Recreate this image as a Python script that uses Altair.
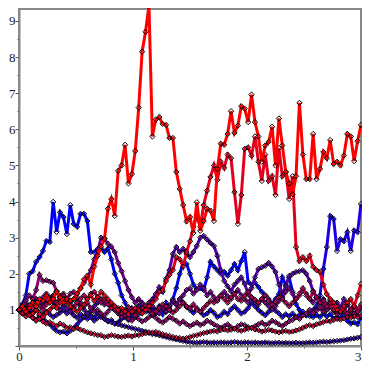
import altair as alt
import pandas as pd

t_step = 0.03
n_pts = 101

path_blue = [
    1.0, 1.16, 1.4, 2.0, 2.07, 2.33, 2.46, 2.63, 2.91, 2.88,
    3.99, 3.16, 3.7, 3.57, 3.1, 3.9, 3.38, 3.3, 3.66, 3.66,
    3.46, 2.6, 2.6, 2.69, 2.7, 2.6, 2.7, 2.4, 2.0, 1.75,
    1.4, 1.2, 1.0, 1.02, 0.95, 1.1, 0.92, 1.0, 0.95, 1.05,
    0.9, 1.1, 0.88, 1.2, 1.02, 1.3, 1.6, 2.0, 2.3, 2.27,
    2.0, 1.7, 1.58, 1.6, 1.55, 1.9, 2.33, 2.2, 2.1, 2.0,
    2.05, 1.95, 2.1, 2.27, 2.1, 2.35, 2.6, 1.77, 1.7, 1.75,
    1.63, 1.5, 1.4, 1.3, 1.16, 1.3, 1.44, 1.9, 1.7, 1.9,
    1.5, 1.16, 1.0, 0.88, 0.85, 0.83, 0.8, 0.86, 0.8, 0.9,
    0.82, 0.88, 0.76, 0.8, 0.78, 0.84, 0.7, 0.62, 0.66, 0.6, 0.8,
]
path_violet = [
    1.0, 0.92, 1.05, 0.88, 0.8, 0.72, 0.85, 0.78, 0.66, 0.6,
    0.5, 0.42, 0.38, 0.4, 0.35, 0.42, 0.5, 0.6, 0.72, 0.8,
    0.9, 0.85, 0.78, 0.92, 0.86, 0.75, 0.68, 0.72, 0.62, 0.66,
    0.75, 0.8, 0.72, 0.85, 0.95, 0.88, 1.02, 0.95, 1.1, 1.0,
    0.9, 0.98, 1.08, 0.95, 1.12, 1.25, 1.15, 1.3, 1.2, 1.08,
    1.0, 0.92, 1.05, 0.95, 0.85, 0.9, 1.0, 0.92, 0.8, 0.85,
    0.95, 0.88, 1.02, 1.1, 1.0, 0.9, 0.95, 1.05, 1.2, 1.1,
    1.0, 0.92, 0.85, 0.95, 1.05, 0.98, 0.9, 0.8, 0.88, 0.82,
    0.9, 0.8, 0.86, 0.95, 0.85, 0.9, 1.0, 1.1, 1.4, 2.13,
    2.74, 3.6, 3.52, 2.63, 2.96, 2.9, 3.15, 2.63, 3.2, 3.15, 3.93,
]
path_bottom = [
    1.0, 0.95, 1.05, 0.98, 0.9, 1.0, 0.92, 0.85, 0.95, 0.88,
    0.8, 0.86, 0.92, 1.0, 0.9, 0.95, 0.85, 0.78, 0.88, 0.82,
    0.75, 0.8, 0.7, 0.78, 0.8, 0.76, 0.7, 0.66, 0.62, 0.6,
    0.57, 0.55, 0.52, 0.5, 0.47, 0.45, 0.42, 0.4, 0.36, 0.33,
    0.32, 0.3, 0.27, 0.25, 0.22, 0.2, 0.18, 0.16, 0.14, 0.12,
    0.11, 0.1, 0.09, 0.1, 0.11, 0.1, 0.09, 0.1, 0.09, 0.1,
    0.1, 0.09, 0.1, 0.11, 0.1, 0.09, 0.1, 0.1, 0.09, 0.1,
    0.09, 0.09, 0.1, 0.09, 0.08, 0.09, 0.09, 0.08, 0.09, 0.08,
    0.08, 0.09, 0.08, 0.08, 0.09, 0.1, 0.09, 0.1, 0.11, 0.12,
    0.11, 0.12, 0.13, 0.14, 0.15, 0.16, 0.18, 0.2, 0.21, 0.23, 0.25,
]
path_purple_e = [
    1.0, 1.1, 1.2, 1.05, 1.15, 1.3, 1.2, 1.1, 1.25, 1.35,
    1.2, 1.1, 1.0, 1.15, 1.05, 0.95, 1.08, 1.2, 1.1, 1.0,
    0.9, 0.98, 1.1, 1.2, 1.3, 1.15, 1.25, 1.1, 1.0, 1.05,
    0.95, 0.85, 0.95, 1.05, 0.98, 1.1, 1.2, 1.05, 1.15, 1.3,
    1.44, 1.63, 1.5, 1.86, 2.1, 2.55, 2.74, 2.6, 2.69, 2.55,
    2.46, 2.6, 2.77, 3.0, 3.05, 2.95, 2.85, 2.77, 2.5, 2.1,
    1.8, 1.65, 1.52, 1.7, 1.8, 1.9, 1.72, 1.44, 1.6, 1.9,
    2.13, 2.18, 2.22, 2.3, 2.2, 2.05, 1.7, 1.44, 1.66, 1.94,
    2.0, 2.05, 2.07, 2.1, 2.0, 1.8, 1.52, 1.35, 1.2, 1.3,
    1.15, 1.25, 1.1, 1.2, 1.05, 1.3, 1.15, 1.0, 1.1, 0.95, 1.05,
]
path_purple_c = [
    1.0, 1.05, 0.95, 1.1, 1.2, 1.3, 1.2, 1.35, 1.45, 1.3,
    1.4, 1.5, 1.38, 1.45, 1.3, 1.2, 1.3, 1.45, 1.6, 1.75,
    1.9, 2.1, 2.4, 2.63, 3.0, 2.97, 2.83, 2.75, 2.6, 2.3,
    2.07, 1.8, 1.55, 1.35, 1.2, 1.3, 1.15, 1.05, 1.2, 1.1,
    1.0, 0.9, 1.05, 0.95, 1.1, 1.25, 1.15, 1.3, 1.4, 1.55,
    1.6, 1.45, 1.55, 1.7, 1.6, 1.4, 1.5, 1.35, 1.25, 1.4,
    1.5, 1.38, 1.3, 1.45, 1.55, 1.4, 1.3, 1.2, 1.35, 1.25,
    1.15, 1.3, 1.2, 1.1, 1.0, 1.1, 1.25, 1.35, 1.5, 1.6,
    1.45, 1.3, 1.4, 1.55, 1.45, 1.3, 1.2, 1.35, 1.25, 1.1,
    1.0, 1.1, 1.2, 1.05, 0.95, 1.05, 1.15, 1.0, 0.9, 1.0, 1.1,
]
path_magenta = [
    1.0, 1.1, 1.25, 1.4, 1.3, 1.55, 1.97, 1.8, 1.82, 1.78,
    1.75, 1.52, 1.35, 1.25, 1.3, 1.45, 1.5, 1.35, 1.2, 1.1,
    1.2, 1.05, 0.95, 1.0, 0.9, 0.85, 0.95, 1.1, 1.0, 0.9,
    0.8, 0.85, 0.75, 0.7, 0.8, 0.75, 0.68, 0.72, 0.8, 0.85,
    0.78, 0.7, 0.65, 0.72, 0.8, 0.75, 0.7, 0.62, 0.68, 0.6,
    0.55, 0.6, 0.65, 0.58, 0.62, 0.7, 0.66, 0.6, 0.55, 0.5,
    0.55, 0.6, 0.52, 0.48, 0.55, 0.6, 0.58, 0.52, 0.5, 0.55,
    0.6, 0.65, 0.58, 0.62, 0.7, 0.66, 0.6, 0.55, 0.62, 0.68,
    0.72, 0.8, 0.75, 0.85, 0.9, 1.0, 0.92, 0.98, 1.05, 0.95,
    1.0, 1.1, 0.95, 0.88, 0.92, 1.0, 0.9, 0.82, 0.9, 0.85, 0.8,
]
path_plum = [
    1.0, 0.9, 1.0, 1.12, 1.05, 1.2, 1.1, 1.0, 1.15, 1.25,
    1.35, 1.2, 1.3, 1.4, 1.25, 1.15, 1.05, 1.2, 1.3, 1.4,
    1.3, 1.45, 1.5, 1.35, 1.2, 1.3, 1.15, 1.05, 1.1, 0.95,
    0.9, 1.0, 1.08, 0.95, 0.85, 0.95, 1.05, 1.12, 1.0, 0.9,
    0.95, 1.05, 1.15, 1.1, 1.0, 0.92, 1.0, 1.1, 1.2, 1.1,
    1.05, 1.15, 1.0, 0.95, 1.05, 1.15, 1.25, 1.2, 1.3, 1.4,
    1.3, 1.2, 1.35, 1.45, 1.3, 1.25, 1.4, 1.5, 1.35, 1.28,
    1.2, 1.3, 1.4, 1.25, 1.15, 1.22, 1.35, 1.3, 1.2, 1.1,
    1.2, 1.3, 1.45, 1.6, 1.4, 1.3, 1.5, 1.35, 1.2, 1.25,
    1.1, 1.2, 1.0, 1.1, 0.95, 1.05, 0.9, 1.0, 1.1, 0.95, 1.15,
]
path_lowcrimson = [
    1.0, 0.9, 0.82, 0.88, 0.78, 0.7, 0.75, 0.68, 0.62, 0.66,
    0.6, 0.55, 0.62, 0.58, 0.5, 0.52, 0.47, 0.5, 0.45, 0.42,
    0.38, 0.35, 0.33, 0.3, 0.3, 0.25, 0.27, 0.3, 0.28, 0.26,
    0.25, 0.27, 0.29, 0.26, 0.3, 0.3, 0.33, 0.35, 0.38, 0.37,
    0.39, 0.36, 0.33, 0.3, 0.28, 0.25, 0.23, 0.22, 0.2, 0.22,
    0.25, 0.28, 0.3, 0.33, 0.36, 0.38, 0.4, 0.42, 0.4, 0.44,
    0.46, 0.43, 0.45, 0.48, 0.44, 0.42, 0.45, 0.48, 0.5, 0.46,
    0.44, 0.4, 0.42, 0.45, 0.43, 0.4, 0.38, 0.4, 0.42, 0.39,
    0.4, 0.43, 0.46, 0.5, 0.55, 0.58, 0.55, 0.6, 0.63, 0.66,
    0.7, 0.68, 0.72, 0.75, 0.73, 0.77, 0.8, 0.78, 0.82, 0.8, 0.85,
]
path_crimson = [
    1.0, 1.08, 0.95, 0.85, 0.9, 1.0, 0.88, 0.8, 0.92, 1.0,
    1.1, 1.05, 1.2, 1.3, 1.22, 1.1, 1.0, 0.95, 1.05, 1.15,
    1.3, 1.4, 1.25, 1.35, 1.5, 1.4, 1.3, 1.2, 1.1, 1.0,
    1.05, 0.95, 0.88, 0.95, 1.05, 1.0, 0.9, 1.0, 1.1, 1.2,
    1.3, 1.5, 1.55, 1.8, 1.97, 2.1, 2.46, 2.4, 2.2, 2.6,
    2.9, 3.3, 3.6, 3.3, 3.9, 4.3, 4.68, 5.0, 4.6, 5.1,
    4.93, 5.3, 5.2, 4.26, 3.38, 4.18, 5.46, 5.5, 5.27, 5.8,
    5.1, 4.57, 5.3, 4.57, 4.7, 4.18, 5.48, 4.7, 4.82, 4.07,
    4.7, 2.74, 2.35, 2.46, 2.35, 2.5, 2.19, 2.1, 2.05, 1.7,
    1.44, 1.3, 1.2, 1.0, 0.95, 1.1, 1.2, 1.3, 1.1, 1.4, 1.72,
]
path_red = [
    1.0, 1.1, 0.95, 1.05, 1.2, 1.1, 1.3, 1.25, 1.4, 1.2,
    1.3, 1.5, 1.35, 1.2, 1.3, 1.25, 1.3, 1.45, 1.6, 1.85,
    1.95, 1.7, 2.2, 2.5, 2.75, 2.97, 3.8, 4.07, 3.6, 4.85,
    5.0, 5.57, 4.5, 4.76, 5.4, 6.6, 8.15, 8.7, 9.42, 5.8,
    6.27, 6.34, 6.15, 6.12, 5.76, 5.76, 4.82, 4.35, 3.9, 3.45,
    3.57, 3.13, 3.98, 3.19, 3.46, 3.8, 3.75, 3.46, 4.9, 5.6,
    5.57, 5.87, 6.5, 5.9, 6.1, 6.64, 6.57, 6.2, 6.96, 6.2,
    5.8, 5.1, 5.55, 5.65, 6.07, 5.0, 6.3, 5.55, 4.82, 4.5,
    4.2, 4.7, 6.73, 5.3, 4.62, 4.62, 5.87, 4.62, 4.9, 5.37,
    5.2, 5.7, 5.04, 5.1, 5.0, 5.27, 5.87, 5.8, 5.12, 5.67, 6.12,
]

paths = [path_blue, path_violet, path_bottom, path_purple_e, path_purple_c,
         path_magenta, path_plum, path_lowcrimson, path_crimson, path_red]

x_ticks = [0, 0.5, 1, 1.5, 2, 2.5, 3]
y_ticks = [0, 0.5, 1, 1.5, 2, 2.5, 3, 3.5, 4, 4.5, 5, 5.5, 6, 6.5, 7, 7.5, 8, 8.5, 9]

xs = alt.Scale(domain=[0, 3], nice=False, zero=False)
ys = alt.Scale(domain=[0, 9.33], nice=False, zero=False)

major_tick = {"condition": {"test": "datum.value % 1 === 0", "value": 4}, "value": 2}
x_align = {"condition": {"test": "datum.value >= 3", "value": "right"}, "value": "center"}

xaxis = alt.Axis(values=x_ticks, title=None, grid=False, labelFlush=False,
                 labelAlign=x_align,
                 labelExpr="datum.value % 1 === 0 ? format(datum.value, 'd') : ''",
                 tickSize=major_tick, labelPadding=0)
yaxis = alt.Axis(values=y_ticks, title=None, grid=False,
                 labelExpr="datum.value % 1 === 0 && datum.value > 0 ? format(datum.value, 'd') : ''",
                 tickSize=major_tick, labelPadding=0)

layers = []
for i, vals in enumerate(paths):
    assert len(vals) == n_pts, (i, len(vals))
    r = round(255 * i / 9)
    color = f"rgb({r},0,{255 - r})"
    df = pd.DataFrame({"t": [round(k * t_step, 2) for k in range(n_pts)], "v": vals})
    base = alt.Chart(df).encode(
        x=alt.X("t:Q", scale=xs, axis=xaxis),
        y=alt.Y("v:Q", scale=ys, axis=yaxis),
    )
    layers.append(base.mark_line(color=color, strokeWidth=3))
    layers.append(base.mark_point(shape="diamond", size=28, filled=False,
                                  color="black", strokeWidth=1, opacity=1))

chart = alt.layer(*layers).properties(
    width=342, height=337,
    autosize=alt.AutoSizeParams(type="none"),
    padding={"left": 11, "top": 1, "right": 1, "bottom": 16},
).configure_view(
    stroke="#888888", strokeWidth=2
).configure_axis(
    domainColor="#888888", domainWidth=2,
    tickColor="#555555", tickWidth=1,
    labelFont="Liberation Serif", labelFontSize=13, labelColor="#222222",
)

chart.save("out.html", embed_options={"renderer": "svg", "actions": False})
